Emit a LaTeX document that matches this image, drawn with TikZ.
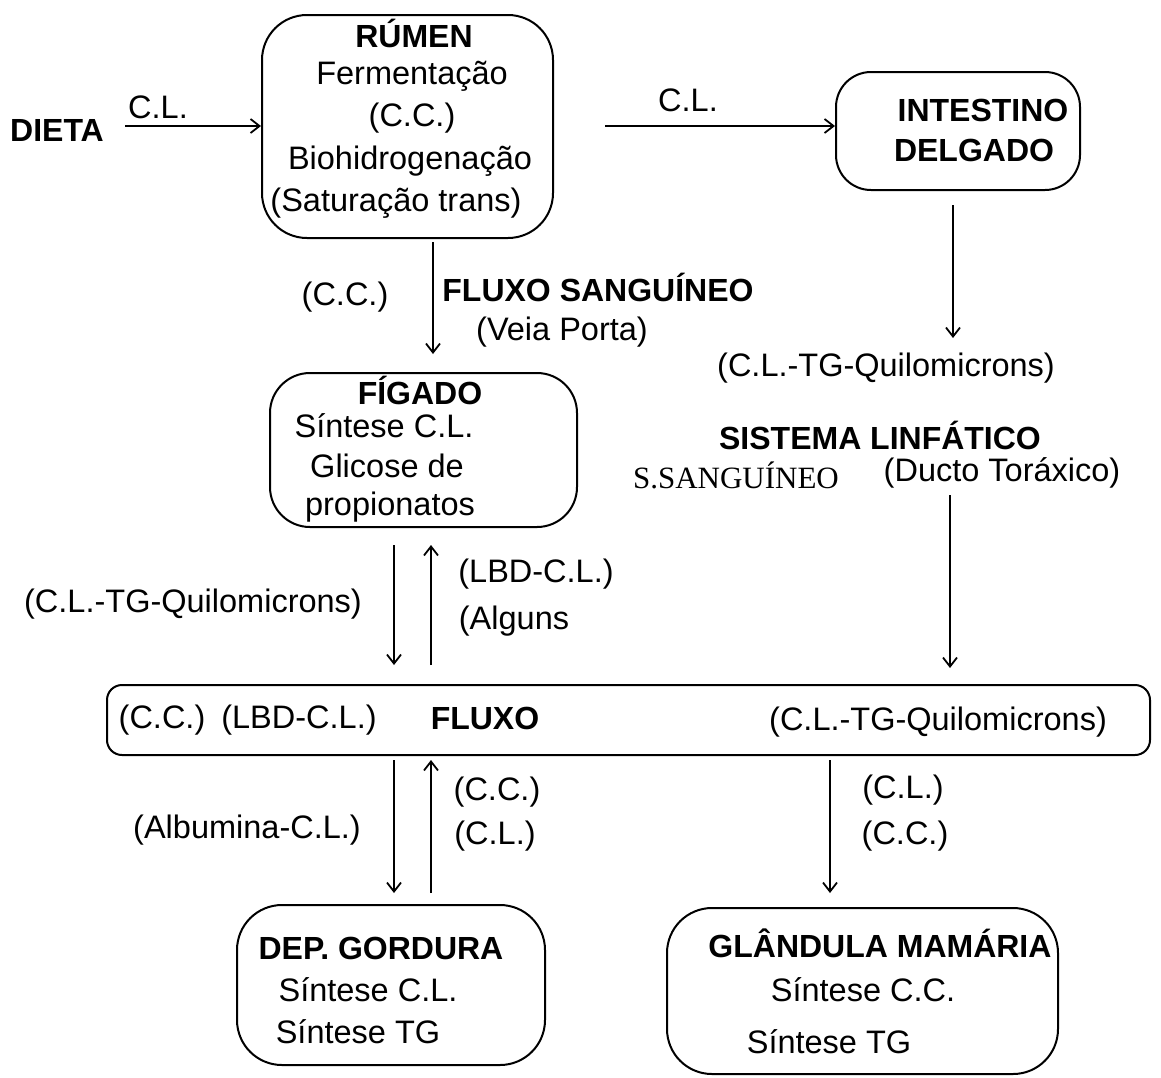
\documentclass[tikz,border=0pt]{standalone}
\usepackage{fontspec}
\setmainfont{Liberation Sans}
\newfontfamily\timesfam{Liberation Serif}
\usetikzlibrary{arrows.meta}
\begin{document}
\begin{tikzpicture}[x=1pt,y=-1pt,
  lbl/.style={inner sep=0pt,font=\fontsize{32.5}{38}\selectfont},
  blbl/.style={inner sep=0pt,font=\fontsize{32}{38}\selectfont\bfseries},
  box/.style={draw,line width=2pt,rounded corners=#1,inner sep=0pt},
  conn/.style={line width=1.8pt,-{Straight Barb[length=9pt,width=14pt,line width=1.8pt]}}]
\useasboundingbox (0,0) rectangle (1161,1077);
% boxes
\node[box=45pt,minimum width=291pt,minimum height=223pt] (rumen) at (407.5,126.5) {};
\node[box=35pt,minimum width=244pt,minimum height=118pt] (intest) at (958,131) {};
\node[box=40pt,minimum width=307pt,minimum height=154pt] (figado) at (423.5,450) {};
\node[box=15pt,minimum width=1043pt,minimum height=70pt] (fluxo) at (628.5,720) {};
\node[box=45pt,minimum width=308pt,minimum height=160pt] (gord) at (391,985) {};
\node[box=45pt,minimum width=391pt,minimum height=166pt] (mama) at (862.5,991) {};
% texts
\node[blbl] (dieta) at (57,130) {DIETA};
\node[lbl] (cl1) at (158,107) {C.L.};
\node[blbl] (t1) at (414,33) {RÚMEN};
\node[lbl] (t2) at (412,76) {Fermentação};
\node[lbl] (t3) at (412,118) {(C.C.)};
\node[lbl] (t4) at (410,161) {Biohidrogenação};
\node[lbl] (t5) at (396,203) {(Saturação trans)};
\node[lbl] (cl2) at (688,100) {C.L.};
\node[blbl] (i1) at (983,110) {INTESTINO};
\node[blbl] (i2) at (974,150) {DELGADO};
\node[lbl] (q1) at (886,368) {(C.L.-TG-Quilomicrons)};
\node[blbl] (sl) at (880,435) {SISTEMA LINFÁTICO};
\node[inner sep=0pt,font=\fontsize{31}{36}\selectfont\timesfam] (ss) at (736,475) {S.SANGUÍNEO};
\node[lbl] (dt) at (1002,473) {(Ducto Toráxico)};
\node[lbl] (cc1) at (345,297) {(C.C.)};
\node[blbl] (fs) at (598,287) {FLUXO SANGUÍNEO};
\node[lbl] (vp) at (562,332) {(Veia Porta)};
\node[blbl] (f1) at (420,390) {FÍGADO};
\node[lbl] (f2) at (384,426) {Síntese C.L.};
\node[lbl] (f3) at (387,466) {Glicose de};
\node[lbl] (f4) at (390,507) {propionatos};
\node[lbl] (q2) at (193,604) {(C.L.-TG-Quilomicrons)};
\node[lbl] (lbd1) at (536,574) {(LBD-C.L.)};
\node[lbl] (alg) at (514,621) {(Alguns};
\node[lbl] (x1) at (162,720) {(C.C.)};
\node[lbl] (x2) at (299,720) {(LBD-C.L.)};
\node[blbl] (x3) at (485,718) {FLUXO};
\node[lbl] (x4) at (938,722) {(C.L.-TG-Quilomicrons)};
\node[lbl] (alb) at (247,830) {(Albumina-C.L.)};
\node[lbl] (cc2) at (497,792) {(C.C.)};
\node[lbl] (cl3) at (495,836) {(C.L.)};
\node[lbl] (cl4) at (903,790) {(C.L.)};
\node[lbl] (cc3) at (905,836) {(C.C.)};
\node[blbl] (g1) at (381,948) {DEP. GORDURA};
\node[lbl] (g2) at (368,990) {Síntese C.L.};
\node[lbl] (g3) at (358,1032) {Síntese TG};
\node[blbl] (m1) at (880,943) {GLÂNDULA MAMÁRIA};
\node[lbl] (m2) at (863,990) {Síntese C.C.};
\node[lbl] (m3) at (829,1042) {Síntese TG};
% connector end points
\coordinate (a1s) at (125,126);
\coordinate (a2s) at (605,126);
\coordinate (a3s) at (433,242);
\coordinate (a3e) at (433,354);
\coordinate (a4s) at (953,205);
\coordinate (a4e) at (953,338);
\coordinate (a5s) at (950,495);
\coordinate (a5e) at (950,668);
\coordinate (a6s) at (394,545);
\coordinate (a6e) at (394,665);
\coordinate (a7s) at (431,665);
\coordinate (a7e) at (431,545);
\coordinate (a8s) at (394,760);
\coordinate (a8e) at (394,893);
\coordinate (a9s) at (431,893);
\coordinate (a9e) at (431,760);
\coordinate (a10s) at (830,760);
\coordinate (a10e) at (830,893);
% connectors
\draw[conn] (a1s) -- (a1s -| rumen.west);
\draw[conn] (a2s) -- (a2s -| intest.west);
\draw[conn] (a3s) -- (a3e);
\draw[conn] (a4s) -- (a4e);
\draw[conn] (a5s) -- (a5e);
\draw[conn] (a6s) -- (a6e);
\draw[conn] (a7s) -- (a7e);
\draw[conn] (a8s) -- (a8e);
\draw[conn] (a9s) -- (a9e);
\draw[conn] (a10s) -- (a10e);
\end{tikzpicture}
\end{document}
